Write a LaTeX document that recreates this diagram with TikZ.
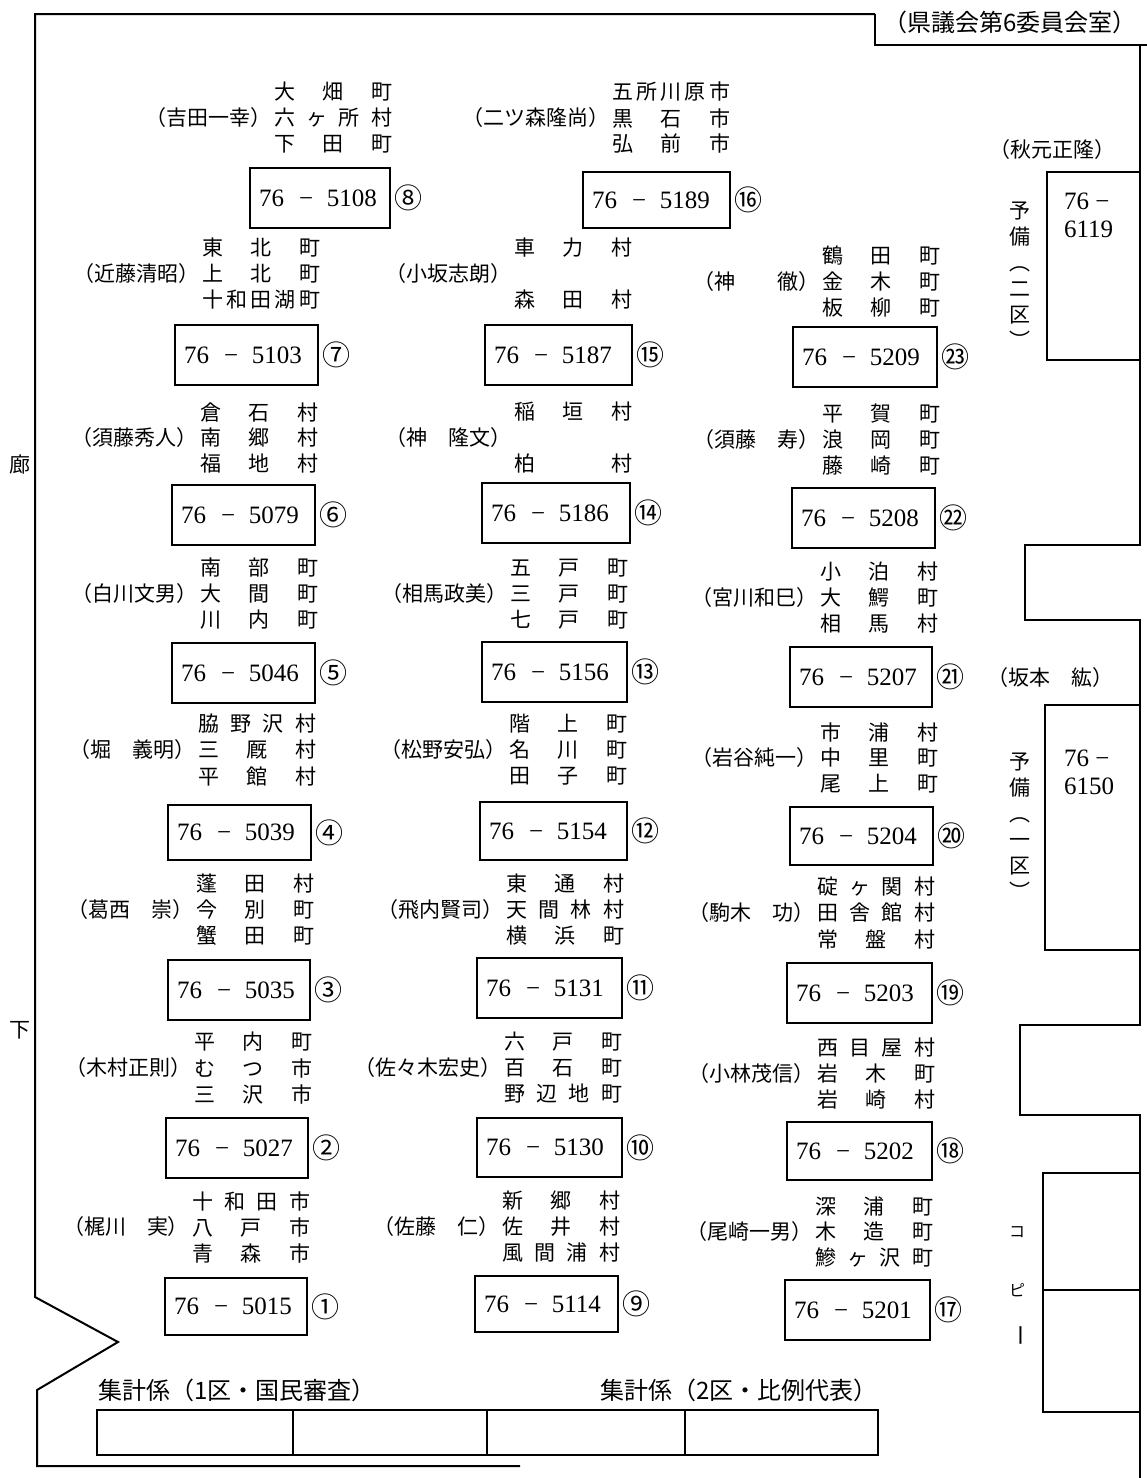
\documentclass[tikz,border=0pt]{standalone}
\usepackage{fontspec}
\setmainfont{Noto Sans CJK JP}
\newfontfamily\numf{Liberation Serif}
\newcommand\hf{\hfill}
\begin{document}
\begin{tikzpicture}[x=1pt,y=-1pt,
  every node/.style={inner sep=0pt, outer sep=0pt},
  jp/.style={font=\fontsize{21}{25}\selectfont},
  big/.style={font=\fontsize{24}{26}\selectfont},
  wall/.style={line width=2pt, line join=miter},
  deskbox/.style={draw, line width=1.5pt, anchor=north west},
  numtxt/.style={font=\numf\fontsize{25}{27}\selectfont, anchor=west},
  circ/.style={font=\fontsize{28}{28}\selectfont, anchor=west},
  plc/.style={jp, anchor=east},
  nm/.style={jp, anchor=east},
  vlab/.style={font=\fontsize{21}{26}\selectfont, align=center},
  small/.style={font=\fontsize{16}{16}\selectfont}]
\useasboundingbox (0,0) rectangle (1147,1478);
% walls
\draw[wall] (875,14) -- (35,14) -- (35,1297) -- (118,1342) -- (37,1390) -- (37,1466) -- (520,1466);
\draw[wall] (875,14) -- (875,45) -- (1147,45);
\draw[wall] (1140,45) -- (1140,545) -- (1025,545) -- (1025,620) -- (1140,620) -- (1140,1025) -- (1020,1025) -- (1020,1115) -- (1140,1115) -- (1140,1478);
% reserve boxes
\node[deskbox, minimum width=93, minimum height=188] (r2) at (1047,172) {};
\node[deskbox, minimum width=95, minimum height=245] (r1) at (1045,705) {};
\node[deskbox, minimum width=97, minimum height=239] (cp) at (1043,1173) {};
\coordinate (cpl) at (1043,1290);
\coordinate (cpr) at (1140,1290);
\draw[line width=1.5pt] (cpl) -- (cpr);
\node[numtxt] (r2a) at (1064,201) {76 −};
\node[numtxt] (r2b) at (1064,229) {6119};
\node[numtxt] (r1a) at (1064,758) {76 −};
\node[numtxt] (r1b) at (1064,786) {6150};
\node[vlab] (r2l) at (1020,275) {予\\備\\︵\\二\\区\\︶};
\node[vlab] (r1l) at (1020,826) {予\\備\\︵\\一\\区\\︶};
\node[small] (k1) at (1017,1232) {コ};
\node[small] (k2) at (1017,1290) {ピ};
\node[font=\fontsize{22}{22}\selectfont, rotate=-90] (k3) at (1017,1335) {ー};
% labels
\node[big] (room) at (1010,22) {（県議会第6委員会室）};
\node[jp] (aki) at (1052,150) {（秋元正隆）};
\node[jp] (saka) at (1050,678) {（坂本　紘）};
\node[jp] (ro) at (20,465) {廊};
\node[jp] (ka) at (20,1030) {下};
% desk labels
\foreach \i/\xr/\y/\nm/\la/\lb/\lc in {
  8/392/118/{（吉田一幸）}/{大\hf 畑\hf 町}/{六\hf ヶ\hf 所\hf 村}/{下\hf 田\hf 町},
  16/730/118/{（二ツ森隆尚）}/{五\hf 所\hf 川\hf 原\hf 市}/{黒\hf 石\hf 市}/{弘\hf 前\hf 市},
  7/320/274/{（近藤清昭）}/{東\hf 北\hf 町}/{上\hf 北\hf 町}/{十\hf 和\hf 田\hf 湖\hf 町},
  6/318/438/{（須藤秀人）}/{倉\hf 石\hf 村}/{南\hf 郷\hf 村}/{福\hf 地\hf 村},
  5/318/594/{（白川文男）}/{南\hf 部\hf 町}/{大\hf 間\hf 町}/{川\hf 内\hf 町},
  4/316/750/{（堀　義明）}/{脇\hf 野\hf 沢\hf 村}/{三\hf 厩\hf 村}/{平\hf 館\hf 村},
  3/314/910/{（葛西　崇）}/{蓬\hf 田\hf 村}/{今\hf 別\hf 町}/{蟹\hf 田\hf 町},
  2/312/1068/{（木村正則）}/{平\hf 内\hf 町}/{む\hf つ\hf 市}/{三\hf 沢\hf 市},
  1/310/1227/{（梶川　実）}/{十\hf 和\hf 田\hf 市}/{八\hf 戸\hf 市}/{青\hf 森\hf 市},
  15/632/274/{（小坂志朗）}/{車\hf 力\hf 村}/{}/{森\hf 田\hf 村},
  14/632/438/{（神　隆文）}/{稲\hf 垣\hf 村}/{}/{柏\hf 村},
  13/628/594/{（相馬政美）}/{五\hf 戸\hf 町}/{三\hf 戸\hf 町}/{七\hf 戸\hf 町},
  12/627/750/{（松野安弘）}/{階\hf 上\hf 町}/{名\hf 川\hf 町}/{田\hf 子\hf 町},
  11/624/910/{（飛内賢司）}/{東\hf 通\hf 村}/{天\hf 間\hf 林\hf 村}/{横\hf 浜\hf 町},
  10/622/1068/{（佐々木宏史）}/{六\hf 戸\hf 町}/{百\hf 石\hf 町}/{野\hf 辺\hf 地\hf 町},
  9/620/1227/{（佐藤　仁）}/{新\hf 郷\hf 村}/{佐\hf 井\hf 村}/{風\hf 間\hf 浦\hf 村},
  23/940/282/{（神　　徹）}/{鶴\hf 田\hf 町}/{金\hf 木\hf 町}/{板\hf 柳\hf 町},
  22/940/440/{（須藤　寿）}/{平\hf 賀\hf 町}/{浪\hf 岡\hf 町}/{藤\hf 崎\hf 町},
  21/938/598/{（宮川和巳）}/{小\hf 泊\hf 村}/{大\hf 鰐\hf 町}/{相\hf 馬\hf 村},
  20/938/758/{（岩谷純一）}/{市\hf 浦\hf 村}/{中\hf 里\hf 町}/{尾\hf 上\hf 町},
  19/935/913/{（駒木　功）}/{碇\hf ヶ\hf 関\hf 村}/{田\hf 舎\hf 館\hf 村}/{常\hf 盤\hf 村},
  18/935/1074/{（小林茂信）}/{西\hf 目\hf 屋\hf 村}/{岩\hf 木\hf 町}/{岩\hf 崎\hf 村},
  17/933/1232/{（尾崎一男）}/{深\hf 浦\hf 町}/{木\hf 造\hf 町}/{鰺\hf ヶ\hf 沢\hf 町}}{
  \node[plc] (pa\i) at (\xr,\y-26) {\makebox[118pt][s]{\la}};
  \node[plc] (pb\i) at (\xr,\y) {\makebox[118pt][s]{\lb}};
  \node[plc] (pc\i) at (\xr,\y+26) {\makebox[118pt][s]{\lc}};
  \node[nm] (n\i) at (\xr-121,\y) {\nm};
}
% phone boxes
\foreach \i/\xa/\ya/\xb/\yb/\num/\cn in {
  8/250/168/390/228/5108/⑧, 16/583/172/730/228/5189/⑯,
  7/175/325/318/385/5103/⑦, 6/172/485/315/545/5079/⑥,
  5/172/643/315/703/5046/⑤, 4/168/805/311/860/5039/④,
  3/168/960/310/1020/5035/③, 2/166/1118/308/1178/5027/②,
  1/165/1278/307/1335/5015/①,
  15/485/325/632/385/5187/⑮, 14/482/483/630/543/5186/⑭,
  13/482/642/627/702/5156/⑬, 12/480/802/627/860/5154/⑫,
  11/477/958/622/1018/5131/⑪, 10/477/1118/622/1177/5130/⑩,
  9/475/1276/618/1332/5114/⑨,
  23/793/327/937/387/5209/㉓, 22/792/488/935/548/5208/㉒,
  21/790/647/932/707/5207/㉑, 20/790/807/933/865/5204/⑳,
  19/787/963/932/1023/5203/⑲, 18/787/1122/932/1180/5202/⑱,
  17/785/1280/930/1340/5201/⑰}{
  \node[deskbox, minimum width={\xb-\xa}, minimum height={\yb-\ya}] (b\i) at (\xa,\ya) {};
  \node[numtxt] (t\i) at ([xshift=9pt]b\i.west) {76\hspace{0.6em}−\hspace{0.55em}\num};
  \node[circ] (c\i) at ([xshift=4pt]b\i.east) {\cn};
}
% tally desks
\node[big, anchor=west] (tl1) at (98,1390) {集計係（1区・国民審査）};
\node[big, anchor=west] (tl2) at (600,1390) {集計係（2区・比例代表）};
\node[deskbox, minimum width=781, minimum height=45] (tab) at (97,1410) {};
\foreach \xx [count=\k] in {293,487,685}{
  \coordinate (dt\k) at (\xx,1410);
  \coordinate (db\k) at (\xx,1455);
  \draw[line width=1.5pt] (dt\k) -- (db\k);
}
\end{tikzpicture}
\end{document}
